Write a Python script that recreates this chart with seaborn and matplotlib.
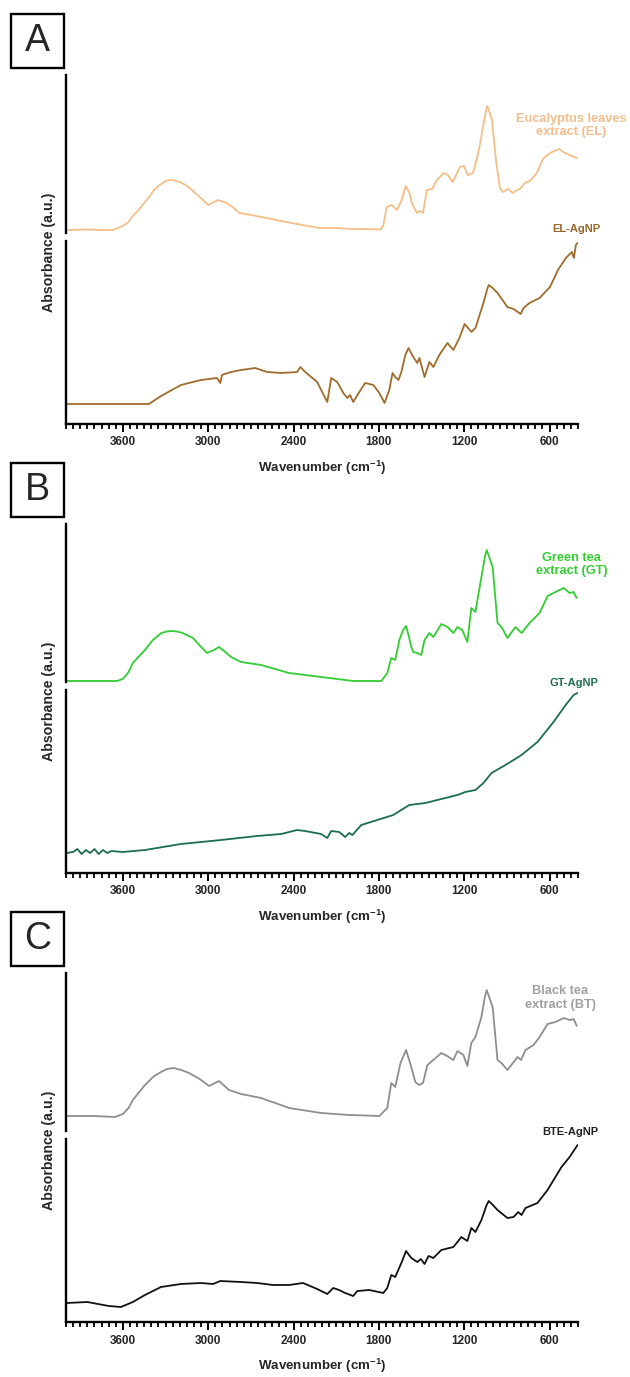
import matplotlib
matplotlib.use("Agg")
import matplotlib.pyplot as plt
from matplotlib.ticker import FixedLocator, MultipleLocator
from matplotlib.patches import Rectangle
import seaborn as sns

# ---------------- data (wavenumber cm-1, absorbance a.u.) ----------------
el_wn = [3995, 3850, 3750, 3670, 3600, 3560, 3530, 3490, 3450, 3410, 3380, 3350, 3320, 3300, 3270, 3240,
         3200, 3160, 3130, 3100, 3060, 3030, 3000, 2960, 2930, 2870, 2820, 2780, 2700, 2590, 2450, 2300,
         2215, 2100, 2000, 1900, 1790, 1770, 1745, 1710, 1673, 1640, 1610, 1585, 1568, 1533, 1511, 1490,
         1462, 1427, 1392, 1343, 1315, 1280, 1230, 1202, 1174, 1139, 1110, 1090, 1068, 1050, 1040, 1030,
         1020, 1005, 977, 949, 928, 893, 858, 830, 808, 773, 738, 689, 647, 597, 534, 492, 443, 408]
el_abs = [0.03, 0.035, 0.03, 0.03, 0.07, 0.11, 0.17, 0.23, 0.30, 0.37, 0.43, 0.47, 0.50, 0.52, 0.53, 0.525,
          0.51, 0.48, 0.45, 0.41, 0.36, 0.32, 0.28, 0.31, 0.33, 0.30, 0.25, 0.20, 0.18, 0.15, 0.11, 0.07,
          0.05, 0.05, 0.04, 0.04, 0.035, 0.07, 0.26, 0.28, 0.23, 0.33, 0.47, 0.40, 0.30, 0.20, 0.22, 0.20,
          0.43, 0.44, 0.53, 0.60, 0.58, 0.51, 0.66, 0.67, 0.58, 0.60, 0.75, 0.88, 1.06, 1.20, 1.27, 1.24,
          1.20, 1.13, 0.73, 0.45, 0.41, 0.44, 0.40, 0.43, 0.44, 0.50, 0.52, 0.60, 0.74, 0.80, 0.84, 0.80, 0.77, 0.75]

elag_wn = [3995, 3417, 3332, 3192, 3051, 2938, 2915, 2904, 2840, 2769, 2670, 2586, 2487, 2375, 2352, 2318,
           2234, 2163, 2135, 2093, 2050, 2022, 2003, 1980, 1938, 1896, 1839, 1797, 1760, 1727, 1704, 1685,
           1662, 1642, 1614, 1592, 1558, 1530, 1515, 1479, 1445, 1417, 1375, 1318, 1276, 1234, 1197, 1149,
           1121, 1065, 1040, 1028, 1000, 966, 896, 853, 803, 783, 741, 670, 597, 541, 485, 443, 429, 415, 403]
elag_abs = [0.20, 0.20, 0.28, 0.39, 0.44, 0.46, 0.41, 0.49, 0.52, 0.54, 0.56, 0.52, 0.51, 0.52, 0.57, 0.52,
            0.42, 0.22, 0.46, 0.42, 0.31, 0.26, 0.29, 0.22, 0.32, 0.41, 0.39, 0.31, 0.21, 0.34, 0.51, 0.47,
            0.44, 0.52, 0.69, 0.76, 0.67, 0.61, 0.66, 0.47, 0.62, 0.57, 0.69, 0.81, 0.74, 0.86, 1.00, 0.92,
            0.96, 1.21, 1.34, 1.39, 1.36, 1.31, 1.17, 1.15, 1.10, 1.16, 1.21, 1.26, 1.37, 1.54, 1.66, 1.72, 1.66, 1.79, 1.81]

gt_wn = [3995, 3800, 3642, 3600, 3560, 3530, 3445, 3389, 3330, 3290, 3262, 3220, 3180, 3107, 3050, 3008,
         2960, 2924, 2880, 2840, 2769, 2628, 2431, 2206, 1980, 1783, 1741, 1713, 1685, 1656, 1630, 1609,
         1590, 1572, 1558, 1530, 1502, 1479, 1445, 1417, 1361, 1318, 1276, 1248, 1214, 1178, 1150, 1121,
         1107, 1079, 1055, 1042, 1025, 1000, 966, 938, 896, 840, 797, 741, 670, 614, 558, 501, 459, 431, 409]
gt_abs = [0.01, 0.01, 0.01, 0.03, 0.10, 0.19, 0.32, 0.42, 0.49, 0.505, 0.51, 0.505, 0.49, 0.44, 0.35, 0.29,
          0.32, 0.35, 0.30, 0.25, 0.20, 0.17, 0.09, 0.05, 0.01, 0.01, 0.09, 0.24, 0.22, 0.42, 0.52, 0.56,
          0.46, 0.35, 0.30, 0.29, 0.27, 0.42, 0.49, 0.45, 0.58, 0.55, 0.49, 0.55, 0.52, 0.40, 0.74, 0.70,
          0.82, 1.05, 1.25, 1.32, 1.25, 1.15, 0.59, 0.55, 0.44, 0.55, 0.49, 0.59, 0.69, 0.86, 0.90, 0.94, 0.89, 0.90, 0.84]

gtag_wn = [3995, 3950, 3920, 3890, 3860, 3830, 3800, 3770, 3740, 3710, 3680, 3600, 3445, 3192, 2910, 2656,
           2487, 2375, 2320, 2206, 2163, 2135, 2079, 2037, 2008, 1986, 1924, 1811, 1699, 1586, 1473, 1361,
           1248, 1192, 1121, 1065, 1008, 910, 797, 685, 572, 487, 431, 403]
gtag_abs = [0.20, 0.21, 0.24, 0.19, 0.23, 0.20, 0.24, 0.19, 0.23, 0.20, 0.22, 0.21, 0.23, 0.29, 0.33, 0.37,
            0.39, 0.43, 0.42, 0.39, 0.35, 0.42, 0.41, 0.36, 0.40, 0.38, 0.48, 0.53, 0.58, 0.68, 0.70, 0.74,
            0.78, 0.81, 0.83, 0.90, 1.00, 1.08, 1.18, 1.31, 1.51, 1.68, 1.78, 1.80]

bt_wn = [3995, 3800, 3656, 3600, 3560, 3530, 3445, 3380, 3332, 3290, 3242, 3190, 3135, 3060, 2994, 2924,
         2854, 2769, 2628, 2431, 2206, 2008, 1797, 1741, 1713, 1685, 1648, 1609, 1572, 1544, 1516, 1490,
         1459, 1417, 1361, 1320, 1276, 1248, 1206, 1178, 1150, 1121, 1079, 1055, 1042, 1025, 1000, 966,
         938, 896, 825, 800, 769, 713, 670, 614, 558, 501, 459, 430, 409]
bt_abs = [0.15, 0.15, 0.14, 0.17, 0.23, 0.31, 0.46, 0.55, 0.59, 0.62, 0.63, 0.61, 0.58, 0.52, 0.45, 0.50,
          0.41, 0.37, 0.33, 0.23, 0.18, 0.16, 0.15, 0.23, 0.48, 0.44, 0.68, 0.81, 0.64, 0.49, 0.46, 0.48,
          0.66, 0.71, 0.78, 0.75, 0.71, 0.80, 0.76, 0.65, 0.88, 0.94, 1.14, 1.34, 1.41, 1.34, 1.24, 0.71,
          0.68, 0.61, 0.74, 0.71, 0.81, 0.86, 0.94, 1.07, 1.09, 1.13, 1.11, 1.12, 1.05]

bte_wn = [3995, 3850, 3699, 3614, 3530, 3445, 3332, 3192, 3051, 2966, 2915, 2769, 2656, 2544, 2431, 2333,
          2234, 2163, 2121, 2080, 2037, 1980, 1952, 1868, 1769, 1741, 1713, 1685, 1642, 1609, 1572, 1530,
          1505, 1479, 1451, 1417, 1361, 1276, 1220, 1178, 1150, 1121, 1079, 1045, 1028, 1005, 966, 896, 853,
          820, 797, 769, 685, 614, 516, 459, 403]
bte_abs = [0.19, 0.20, 0.16, 0.15, 0.20, 0.27, 0.35, 0.38, 0.39, 0.38, 0.41, 0.40, 0.39, 0.37, 0.37, 0.39,
           0.33, 0.28, 0.34, 0.32, 0.29, 0.26, 0.31, 0.32, 0.29, 0.34, 0.47, 0.45, 0.59, 0.71, 0.64, 0.60,
           0.63, 0.58, 0.66, 0.64, 0.72, 0.75, 0.85, 0.81, 0.94, 0.90, 1.02, 1.16, 1.21, 1.18, 1.12, 1.04, 1.05,
           1.10, 1.07, 1.14, 1.19, 1.32, 1.55, 1.65, 1.77]

major_ticks = [3600, 3000, 2400, 1800, 1200, 600]
panel_letters = ["A", "B", "C"]
extract_labels = ["Eucalyptus leaves\nextract (EL)", "Green tea\nextract (GT)", "Black tea\nextract (BT)"]
agnp_labels = ["EL-AgNP", "GT-AgNP", "BTE-AgNP"]

# ---------------- style ----------------
sns.set_theme(style="white")
plt.rcParams["font.family"] = ["Liberation Sans", "DejaVu Sans"]
plt.rcParams["mathtext.fontset"] = "custom"
plt.rcParams["mathtext.bf"] = "Liberation Sans:bold"
plt.rcParams["mathtext.rm"] = "Liberation Sans"

W, H = 630, 1377
fig = plt.figure(figsize=(W / 100, H / 100), dpi=100)

def fx(px):
    return px / W

def fy(px):
    return 1 - px / H

panels = [
    dict(data_top=(el_wn, el_abs), data_bot=(elag_wn, elag_abs),
         c_top="#F4BE88", c_bot="#A06C2C", c_lab_top="#F2BF8C", c_lab_bot="#95652A",
         lab_top_pos=(445, 1.075), lab_bot_pos=(412, 1.95)),
    dict(data_top=(gt_wn, gt_abs), data_bot=(gtag_wn, gtag_abs),
         c_top="#33CC33", c_bot="#1C6E4C", c_lab_top="#33CC33", c_lab_bot="#1C6E4C",
         lab_top_pos=(445, 1.175), lab_bot_pos=(428, 1.90)),
    dict(data_top=(bt_wn, bt_abs), data_bot=(bte_wn, bte_abs),
         c_top="#8E8E8E", c_bot="#111111", c_lab_top="#A0A0A0", c_lab_bot="#222222",
         lab_top_pos=(525, 1.33), lab_bot_pos=(455, 1.90)),
]

left_px, right_px = 66, 578
spine_lw = 1.7
offset_step = 449

for i, p in enumerate(panels):
    off = i * offset_step
    top_y0, top_y1 = 75 + off, 233 + off
    bot_y0, bot_y1 = 241 + off, 424 + off

    ax_top = fig.add_axes([fx(left_px), fy(top_y1), fx(right_px - left_px), (top_y1 - top_y0) / H])
    ax_bot = fig.add_axes([fx(left_px), fy(bot_y1), fx(right_px - left_px), (bot_y1 - bot_y0) / H])

    for ax, (wn, ab), col, hpx in [(ax_top, p["data_top"], p["c_top"], top_y1 - top_y0),
                                   (ax_bot, p["data_bot"], p["c_bot"], bot_y1 - bot_y0)]:
        sns.lineplot(x=wn, y=ab, ax=ax, color=col, linewidth=1.3, sort=False, estimator=None)
        ax.set_xlim(4000, 400)
        ax.set_ylim(0, hpx / 100)
        ax.set_facecolor("none")
        ax.set_yticks([])
        ax.set_ylabel("")
        ax.set_xlabel("")
        for s in ["top", "right"]:
            ax.spines[s].set_visible(False)
        ax.spines["left"].set_linewidth(spine_lw)
        ax.spines["left"].set_color("black")

    ax_top.spines["bottom"].set_visible(False)
    ax_top.set_xticks([])

    ax_bot.spines["bottom"].set_linewidth(spine_lw)
    ax_bot.spines["bottom"].set_color("black")
    ax_bot.xaxis.set_major_locator(FixedLocator(major_ticks))
    ax_bot.xaxis.set_minor_locator(MultipleLocator(50))
    ax_bot.set_xticklabels([str(t) for t in major_ticks], fontsize=8.5, fontweight="bold")
    ax_bot.tick_params(axis="x", which="major", direction="out", length=5.5, width=1.4,
                       color="black", pad=3.5, bottom=True)
    ax_bot.tick_params(axis="x", which="minor", direction="out", length=3.5, width=1.3,
                       color="black", bottom=True)

    # curve labels
    tx, ty = p["lab_top_pos"]
    ax_top.text(tx, ty, extract_labels[i], color=p["c_lab_top"], fontsize=9.2, fontweight="bold",
                ha="center", va="center", linespacing=1.15)
    bx, by = p["lab_bot_pos"]
    ax_bot.text(bx, by, agnp_labels[i], color=p["c_lab_bot"], fontsize=8, fontweight="bold",
                ha="center", va="center", clip_on=False)

    # axis titles
    fig.text(fx(49), fy(252 + off), "Absorbance (a.u.)", rotation=90, fontsize=10.2,
             fontweight="bold", ha="center", va="center")
    fig.text(fx((left_px + right_px) / 2), fy(468 + off), r"Wavenumber (cm$^{\mathbf{-1}}$)",
             fontsize=9.6, fontweight="bold", ha="center", va="center")

    # panel letter box
    fig.patches.append(Rectangle((fx(11), fy(68 + off)), fx(53), 54 / H, transform=fig.transFigure,
                                 fill=False, edgecolor="black", linewidth=1.7))
    fig.text(fx(37.5), fy(41 + off), panel_letters[i], fontsize=27, ha="center", va="center")

fig.savefig("out.png", dpi=100)
